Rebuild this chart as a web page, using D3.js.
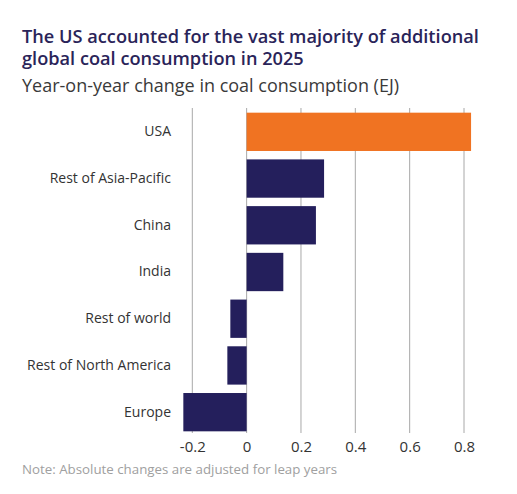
<!DOCTYPE html>
<html>
<head>
<meta charset="utf-8">
<script src="https://cdn.jsdelivr.net/npm/d3@7"></script>
<style>
  body { margin: 0; background: #fff; font-family: "Open Sans", sans-serif; }
</style>
</head>
<body>
<div id="mount"></div>
<script>
// chart data
var regions = ['USA', 'Rest of Asia-Pacific', 'China', 'India', 'Rest of world', 'Rest of North America', 'Europe'];
var changes = [0.826, 0.285, 0.255, 0.135, -0.060, -0.071, -0.233];
var highlight = ['USA'];
var xTicks = [-0.2, 0, 0.2, 0.4, 0.6, 0.8];
var titleLines = ['The US accounted for the vast majority of additional', 'global coal consumption in 2025'];

var W = 517, H = 494;

var svg = d3.select('#mount').append('svg')
    .attr('width', W)
    .attr('height', H);

// two-line title kept in one text element
svg.append('text')
    .attr('x', 22).attr('y', 43)
    .attr('font-size', 18.2).attr('font-weight', 600)
    .attr('fill', '#2a2459')
  .selectAll('tspan')
    .data(titleLines)
  .enter().append('tspan')
    .attr('x', 22)
    .attr('dy', (d, i) => i === 0 ? 0 : 21.5)
    .text(d => d);

svg.append('text')
    .attr('x', 22).attr('y', 92)
    .attr('font-size', 18).attr('font-weight', 400)
    .attr('fill', '#3a3a3a')
    .text('Year-on-year change in coal consumption (EJ)');

var data = regions.map((r, i) => ({ region: r, value: changes[i] }));

var x = d3.scaleLinear()
    .domain([-0.2, 0.8])
    .range([192.3, 464]);

var y = d3.scaleBand()
    .domain(regions)
    .range([108, 436])
    .paddingInner(0.18)
    .paddingOuter(0.1);

// vertical gridlines
svg.append('g')
    .attr('class', 'grid')
  .selectAll('line')
    .data(xTicks)
  .enter().append('line')
    .attr('x1', d => x(d)).attr('x2', d => x(d))
    .attr('y1', 108).attr('y2', 433)
    .attr('stroke', '#a8a8a8')
    .attr('stroke-width', 1);

// bars
svg.selectAll('.bar')
    .data(data)
  .enter().append('rect')
    .attr('class', 'bar')
    .attr('x', d => x(Math.min(0, d.value)))
    .attr('width', d => Math.abs(x(d.value) - x(0)))
    .attr('y', d => y(d.region))
    .attr('height', y.bandwidth())
    .attr('fill', d => highlight.includes(d.region) ? '#f07322' : '#241f5c');

// category labels
var yAxis = d3.axisLeft(y).tickSize(0).tickPadding(0);
svg.append('g')
    .attr('class', 'y-axis')
    .attr('transform', 'translate(171,0)')
    .call(yAxis)
    .call(g => g.select('.domain').remove())
    .call(g => g.selectAll('text')
        .attr('font-family', '"Open Sans", sans-serif')
        .attr('font-size', 14)
        .attr('fill', '#333'));

// value axis
var xAxis = d3.axisBottom(x)
    .tickValues(xTicks)
    .tickSize(0)
    .tickPadding(7)
    .tickFormat(d => d === 0 ? '0' : d3.format('.1f')(d).replace('−', '-'));
svg.append('g')
    .attr('class', 'x-axis')
    .attr('transform', 'translate(0,434)')
    .call(xAxis)
    .call(g => g.select('.domain').remove())
    .call(g => g.selectAll('text')
        .attr('font-family', '"Open Sans", sans-serif')
        .attr('font-size', 15)
        .attr('fill', '#333'));

// footnote
svg.append('text')
    .attr('x', 22).attr('y', 474)
    .attr('font-size', 13.3)
    .attr('fill', '#a0a0a0')
    .text('Note: Absolute changes are adjusted for leap years');
</script>
</body>
</html>
